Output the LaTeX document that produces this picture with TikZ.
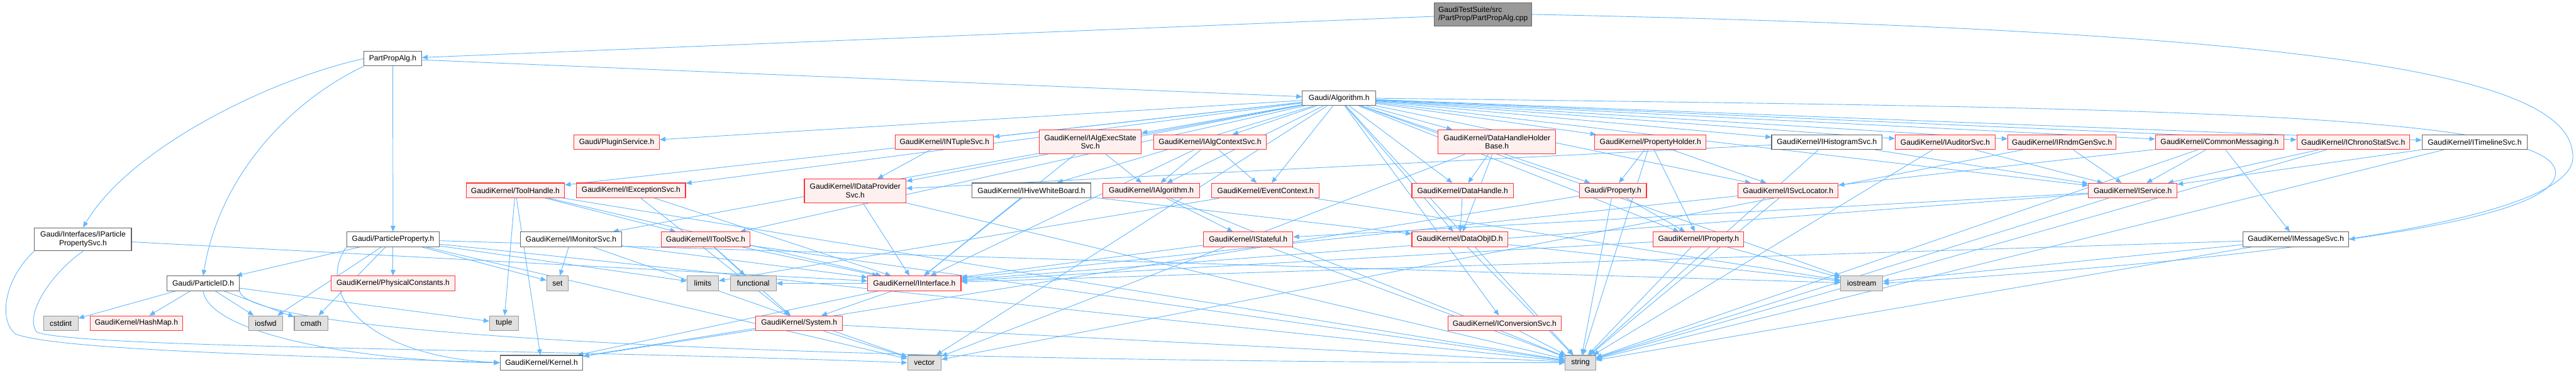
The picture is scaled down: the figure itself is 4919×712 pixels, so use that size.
\documentclass[tikz,border=0pt]{standalone}
\usepackage{fontspec}
\setmainfont{Liberation Sans}
\usetikzlibrary{arrows.meta,backgrounds}
\definecolor{edgeblue}{HTML}{63B8FF}
\definecolor{redfill}{HTML}{FFF0F0}
\definecolor{redline}{HTML}{FF3333}
\definecolor{grayfill}{HTML}{E0E0E0}
\definecolor{grayline}{HTML}{999999}
\definecolor{darkline}{HTML}{666666}
\definecolor{rootfill}{HTML}{999999}
\tikzset{
  base/.style={draw, rectangle, inner sep=0pt, minimum height=28pt, line width=1.3pt,
    font=\fontsize{14.5}{16.7}\selectfont, align=center},
  rednode/.style={base, draw=redline, fill=redfill},
  whitenode/.style={base, draw=darkline, fill=white},
  graynode/.style={base, draw=grayline, fill=grayfill},
  rootnode/.style={base, draw=darkline, fill=rootfill, align=left},
  edge/.style={draw=edgeblue, line width=1.1pt, -{Triangle[length=11pt,width=9pt]}}
}
\begin{document}
\begin{tikzpicture}[x=1pt,y=-1pt]
\useasboundingbox (0,0) rectangle (4919,712);
% nodes
\node[rootnode, minimum width=186pt, minimum height=45pt] (cpp) at (2832,27.5) {GaudiTestSuite/src\\/PartProp/PartPropAlg.cpp};
\node[whitenode, minimum width=110pt] (pph) at (750,112) {PartPropAlg.h};
\node[whitenode, minimum width=140pt] (alg) at (2557,187.5) {Gaudi/Algorithm.h};
\node[whitenode, minimum width=185pt, minimum height=44pt] (ipps) at (158.5,457) {Gaudi/Interfaces/IParticle\\PropertySvc.h};
\node[whitenode, minimum width=177pt] (pprop) at (750.5,457) {Gaudi/ParticleProperty.h};
\node[whitenode, minimum width=138pt] (pid) at (388,541) {Gaudi/ParticleID.h};
\node[rednode, minimum width=237pt] (physc) at (750.5,541) {GaudiKernel/PhysicalConstants.h};
\node[graynode, minimum width=66pt] (cstdint) at (116,617) {cstdint};
\node[rednode, minimum width=177pt] (hashmap) at (260.5,617) {GaudiKernel/HashMap.h};
\node[graynode, minimum width=65pt] (iosfwd) at (507.5,617) {iosfwd};
\node[graynode, minimum width=64pt] (cmath) at (594,617) {cmath};
\node[graynode, minimum width=55pt] (tuple) at (962.5,617) {tuple};
\node[whitenode, minimum width=158pt] (kernel) at (1034,692.5) {GaudiKernel/Kernel.h};
\node[rednode, minimum width=163pt] (plugin) at (1177.5,271.5) {Gaudi/PluginService.h};
\node[rednode, minimum width=187pt] (ntuple) at (1803.5,271.5) {GaudiKernel/INTupleSvc.h};
\node[rednode, minimum width=194pt, minimum height=46pt] (execstate) at (2082,271) {GaudiKernel/IAlgExecState\\Svc.h};
\node[rednode, minimum width=194pt, minimum height=45pt] (dps) at (1633,364.5) {GaudiKernel/IDataProvider\\Svc.h};
\node[rednode, minimum width=188pt] (toolh) at (984,363.5) {GaudiKernel/ToolHandle.h};
\node[rednode, minimum width=208pt] (exc) at (1205,363.5) {GaudiKernel/IExceptionSvc.h};
\node[whitenode, minimum width=227pt] (hive) at (1969.5,363.5) {GaudiKernel/IHiveWhiteBoard.h};
\node[whitenode, minimum width=193pt] (mon) at (1090.5,457) {GaudiKernel/IMonitorSvc.h};
\node[rednode, minimum width=169pt] (toolsvc) at (1347.5,457) {GaudiKernel/IToolSvc.h};
\node[graynode, minimum width=41pt] (set) at (1064.5,541) {set};
\node[graynode, minimum width=60pt] (limits) at (1342,541) {limits};
\node[graynode, minimum width=87pt] (functional) at (1438.5,541) {functional};
\node[rednode, minimum width=178pt] (iint) at (1746,541) {GaudiKernel/IInterface.h};
\node[rednode, minimum width=166pt] (system) at (1526,617) {GaudiKernel/System.h};
\node[graynode, minimum width=64pt] (vector) at (1765,692.5) {vector};
\node[rednode, minimum width=215pt] (ctx) at (2310.5,271.5) {GaudiKernel/IAlgContextSvc.h};
\node[rednode, minimum width=225pt, minimum height=46pt] (dhhb) at (2858.5,271) {GaudiKernel/DataHandleHolder\\Base.h};
\node[rednode, minimum width=185pt] (ialg) at (2198.5,364) {GaudiKernel/IAlgorithm.h};
\node[rednode, minimum width=205pt] (evctx) at (2416.5,364) {GaudiKernel/EventContext.h};
\node[rednode, minimum width=194pt] (dh) at (2793,364) {GaudiKernel/DataHandle.h};
\node[rednode, minimum width=171pt] (stateful) at (2383.5,457) {GaudiKernel/IStateful.h};
\node[rednode, minimum width=183pt] (objid) at (2787.5,457) {GaudiKernel/DataObjID.h};
\node[rednode, minimum width=216pt] (conv) at (2873,617) {GaudiKernel/IConversionSvc.h};
\node[graynode, minimum width=58pt] (string) at (3018,692.5) {string};
\node[rednode, minimum width=213pt] (pholder) at (3151.5,271.5) {GaudiKernel/PropertyHolder.h};
\node[whitenode, minimum width=211pt] (hist) at (3488.5,271.5) {GaudiKernel/IHistogramSvc.h};
\node[rednode, minimum width=191pt] (aud) at (3714.5,271.5) {GaudiKernel/IAuditorSvc.h};
\node[rednode, minimum width=207pt] (rndm) at (3937.5,271.5) {GaudiKernel/IRndmGenSvc.h};
\node[rednode, minimum width=128pt] (prop) at (3080,364) {Gaudi/Property.h};
\node[rednode, minimum width=191pt] (svcloc) at (3414.5,364) {GaudiKernel/ISvcLocator.h};
\node[rednode, minimum width=169pt] (iservice) at (4072.5,364) {GaudiKernel/IService.h};
\node[rednode, minimum width=173pt] (iprop) at (3243.5,457) {GaudiKernel/IProperty.h};
\node[graynode, minimum width=80pt] (iostream) at (3555,541) {iostream};
\node[rednode, minimum width=245pt] (cmsg) at (4238.5,271.5) {GaudiKernel/CommonMessaging.h};
\node[rednode, minimum width=215pt] (chrono) at (4493.5,271.5) {GaudiKernel/IChronoStatSvc.h};
\node[whitenode, minimum width=201pt] (timeline) at (4725.5,271.5) {GaudiKernel/ITimelineSvc.h};
\node[whitenode, minimum width=202pt] (msgsvc) at (4384,457) {GaudiKernel/IMessageSvc.h};
\coordinate (rc) at (4913,300);
\coordinate (rm) at (4880,330);
\coordinate (lk) at (30,638);
\coordinate (lv) at (70,634);
% edges
\begin{pgfonlayer}{background}
\foreach \a/\b in {cpp/pph, pph/alg, pph/pprop,
  alg/plugin, alg/ntuple, alg/execstate, alg/dps, alg/toolh, alg/exc, alg/hive, alg/mon, alg/toolsvc,
  alg/ctx, alg/dhhb, alg/ialg, alg/evctx, alg/dh, alg/objid, alg/conv, alg/string, alg/vector,
  alg/pholder, alg/hist, alg/aud, alg/rndm, alg/prop, alg/svcloc, alg/iservice, alg/iprop,
  alg/cmsg, alg/chrono, alg/timeline, alg/iostream,
  ipps/iint,
  pprop/pid, pprop/iosfwd, pprop/cmath, pprop/physc, pprop/set, pprop/limits,
  pprop/iostream, pprop/string, pprop/vector,
  pid/cstdint, pid/hashmap, pid/iosfwd, pid/cmath, pid/tuple,
  toolh/tuple, toolh/toolsvc, toolh/iint, toolh/kernel, toolh/string,
  exc/iint, exc/system, mon/set, mon/iint, mon/vector,
  toolsvc/system, toolsvc/functional, toolsvc/iint, toolsvc/string,
  iint/system, iint/kernel, iint/functional,
  system/kernel, system/vector, system/string,
  dps/iint, dps/string, ntuple/dps, execstate/iint, execstate/ialg,
  ctx/ialg, ctx/evctx, ctx/iint, hist/dps, hist/iservice, hist/string,
  dhhb/dh, dhhb/objid, dhhb/vector, dh/objid, objid/string, objid/iostream,
  ialg/stateful, ialg/string, evctx/limits, evctx/iostream, hive/objid, hive/iint,
  stateful/iint, stateful/string, conv/string,
  pholder/prop, pholder/iprop, pholder/svcloc, pholder/string,
  prop/iprop, prop/string, prop/kernel,
  iprop/iint, iprop/iostream, iprop/string, svcloc/iint, svcloc/string,
  aud/iservice, aud/string, rndm/iservice, rndm/vector,
  iservice/iint, iservice/stateful, iservice/string,
  cmsg/svcloc, cmsg/iservice, cmsg/msgsvc, cmsg/string,
  chrono/iservice, chrono/string, timeline/iservice, timeline/string,
  msgsvc/iostream, msgsvc/string, msgsvc/iint}
  \draw[edge] (\a) -- (\b);
\draw[edge] (pph.west) .. controls (520,150) and (250,280) .. (ipps.north);
\draw[edge] (pph.south west) .. controls (560,190) and (420,330) .. (pid.north);
\draw[edge] (ipps.south west) .. controls (10,530) and (-5,610) .. (lk) .. controls (120,670) and (600,680) .. (kernel.west);
\draw[edge] (ipps.south) .. controls (100,520) and (45,600) .. (lv) .. controls (150,665) and (1000,665) .. (vector.west);
\draw[edge] (pprop.south west) .. controls (600,560) and (700,680) .. (kernel.west);
\draw[edge] (pid.south) .. controls (400,640) and (700,690) .. (kernel.west);
\draw[edge] (pid.south east) .. controls (470,640) and (1500,690) .. (string.west);
\draw[edge] (cpp.east) .. controls (4500,60) and (4913,150) .. (rc) .. controls (4913,460) and (3900,520) .. (iostream.east);
\draw[edge] (alg.east) .. controls (4000,205) and (4880,210) .. (rm) .. controls (4880,400) and (4600,440) .. (msgsvc.east);
\end{pgfonlayer}
\end{tikzpicture}
\end{document}
